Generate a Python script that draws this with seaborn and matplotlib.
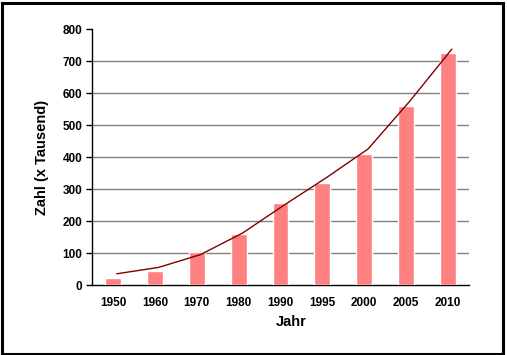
import matplotlib
matplotlib.use("Agg")
import matplotlib.pyplot as plt
import seaborn as sns
import numpy as np
import pandas as pd
from matplotlib.patches import Rectangle

years = ["1950", "1960", "1970", "1980", "1990", "1995", "2000", "2005", "2010"]
values = [22, 44, 104, 160, 257, 320, 410, 560, 726]
trend = [35, 55, 95, 162, 250, 335, 425, 575, 737]
yticks = [0, 100, 200, 300, 400, 500, 600, 700, 800]

sns.set_theme(style="white")
plt.rcParams["font.family"] = ["Liberation Sans", "DejaVu Sans"]
plt.rcParams.update({"text.color": "black", "axes.labelcolor": "black",
                     "xtick.color": "black", "ytick.color": "black"})

W, H = 507, 355
fig = plt.figure(figsize=(W / 100, H / 100), dpi=100)
fig.patch.set_facecolor("white")
ax = fig.add_axes([92 / W, 1 - 285 / H, 377 / W, 256 / H])
ax.set_facecolor("white")

df = pd.DataFrame({"Jahr": years, "Zahl": values})
sns.barplot(data=df, x="Jahr", y="Zahl", color="#FF8080", saturation=1,
            width=0.38, ax=ax, zorder=3)

tx = np.arange(len(years)) + 0.09
sns.lineplot(x=tx, y=trend, color="#800000", linewidth=1.0, ax=ax, zorder=4)

ax.set_ylim(0, 800)
ax.set_xlim(-0.5, len(years) - 0.5)
ax.set_yticks(yticks)
ax.set_yticklabels([str(v) for v in yticks], fontsize=8.5, fontweight="bold")
for v in yticks[1:-1]:
    ax.axhline(v, color="#808080", linewidth=1.0, zorder=1)

ax.set_xticks(np.arange(len(years)))
ax.set_xticklabels(years, fontsize=8.5, fontweight="bold")
ax.set_xticks(np.arange(len(years) + 1) - 0.5, minor=True)
ax.tick_params(axis="x", which="major", length=0, pad=9)
ax.tick_params(axis="x", which="minor", length=4, width=1, color="black", direction="out")
ax.tick_params(axis="y", which="major", length=4, width=1, color="black", direction="out", pad=3, left=True)

for s in ["top", "right"]:
    ax.spines[s].set_visible(False)
for s in ["left", "bottom"]:
    ax.spines[s].set_color("black")
    ax.spines[s].set_linewidth(1.0)

ax.set_xlabel("Jahr", fontsize=10.5, fontweight="bold", color="black")
ax.set_ylabel("Zahl (x Tausend)", fontsize=10.5, fontweight="bold", color="black")
ax.xaxis.set_label_coords((291 - 92) / 377, -(315 - 285) / 256)
ax.yaxis.set_label_coords(-(92 - 49) / 377, 0.5)

fig.patches.append(Rectangle((1.5 / W, 1.5 / H), 501.5 / W, 351 / H,
                             transform=fig.transFigure, fill=False,
                             edgecolor="black", linewidth=2.2))

fig.savefig("out.png", dpi=100)
